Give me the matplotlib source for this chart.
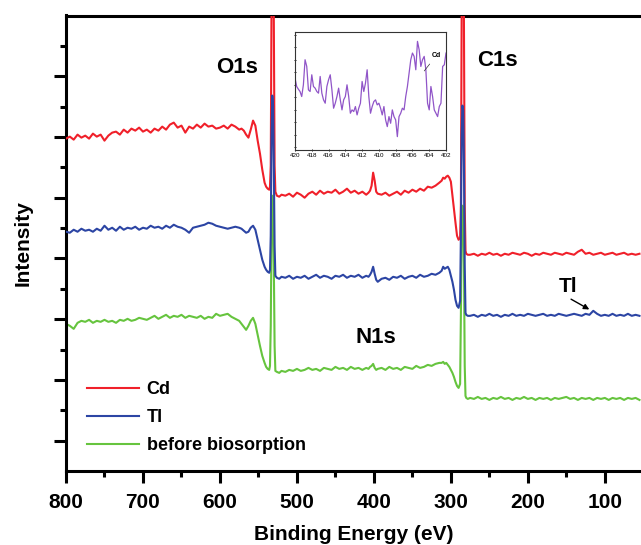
import matplotlib
matplotlib.use("Agg")
import matplotlib.pyplot as plt
import numpy as np

plt.rcParams['font.family'] = ['Liberation Sans', 'DejaVu Sans']

# ---------------- data ----------------
energy = [800, 795, 790, 785, 780, 775, 770, 765, 760, 755, 750, 745, 740, 735, 730, 725, 720, 715, 710, 705,
          700, 695, 690, 685, 680, 675, 670, 665, 660, 655, 650, 645, 640, 635, 630, 625, 620, 615, 610, 605,
          600, 595, 590, 585, 580, 575,
          572, 569, 566, 563, 560, 557, 554, 551, 548, 545, 542, 540, 538, 536, 535, 534, 533, 532, 531, 530,
          529, 528, 526, 523, 520,
          515, 510, 505, 500, 495, 490, 485, 480, 475, 470, 465, 460, 455, 450, 445, 440, 435, 430, 425, 420,
          415, 410,
          407, 405, 403, 401, 399, 397, 395,
          390, 385, 380, 375, 370, 365, 360, 355, 350, 345, 340, 335, 330, 325, 320, 315,
          312, 310, 308, 306, 304, 302, 300, 298, 296, 294, 292, 290, 288, 287, 286, 285, 284, 283, 282, 281,
          280, 278,
          275, 270, 265, 260, 255, 250, 245, 240, 235, 230, 225, 220, 215, 210, 205, 200, 195, 190, 185, 180,
          175, 170, 165, 160, 155, 150, 145, 140, 135, 130, 125, 120, 115, 110, 105, 100, 95, 90, 85, 80,
          75, 70, 65, 60, 55]

cd = [327, 329, 326, 331, 328, 330, 327, 332, 329, 331, 325, 330, 333, 334, 331, 336, 333, 337, 335, 338,
      334, 336, 333, 337, 335, 339, 336, 341, 343, 338, 340, 333, 339, 337, 341, 338, 342, 339, 340, 337,
      338, 340, 337, 341, 339, 336,
      337, 335, 331, 328, 336, 345, 340, 325, 312, 296, 283, 279, 277, 276, 279, 300, 460, 620, 600, 440,
      300, 274, 270, 269, 271,
      270, 272, 269, 273, 271, 268, 272, 274, 271, 275, 272, 274, 273, 276, 272, 274, 277, 273, 275, 272,
      274, 271,
      273, 275, 280, 293, 285, 274, 272,
      271, 273, 270, 272, 274, 271, 275, 273, 276, 274, 277, 275, 279, 278, 280, 283,
      285, 288, 287, 289, 290, 288, 284, 270, 256, 243, 230, 226, 228, 260, 450, 620, 620, 440, 260, 215,
      212, 211,
      211, 212, 210, 212, 211, 213, 211, 212, 210, 212, 211, 213, 212, 211, 213, 212, 210, 212, 211, 213,
      212, 211, 213, 212, 211, 213, 212, 211, 214, 216, 212, 213, 211, 212, 213, 211, 212, 213, 211, 212,
      213, 211, 212, 211, 212]

tl = [234, 233, 236, 234, 237, 235, 236, 234, 237, 235, 240, 236, 238, 235, 239, 236, 238, 237, 239, 236,
      238, 237, 240, 238, 239, 237, 240, 238, 241, 239, 238, 236, 233, 238, 239, 240, 241, 243, 242, 240,
      239, 238, 237, 238, 239, 238,
      237, 235, 233, 234, 238, 240, 236, 226, 216, 206, 199, 196, 194, 193, 196, 230, 330, 370, 360, 300,
      220, 190, 188, 187, 189,
      188, 190, 187, 189, 188, 190, 187, 189, 191, 188, 190, 189, 187, 190, 189, 191, 188, 190, 189, 191,
      188, 190,
      189, 191, 194, 199, 192, 186, 184,
      187, 188, 186, 189, 188, 190, 187, 189, 190, 188, 191, 189, 190, 192, 191, 193,
      195, 199, 197, 198, 199, 196, 190, 184, 176, 166, 160, 158, 165, 230, 330, 360, 355, 300, 200, 153,
      151, 150,
      150, 151, 149, 151, 150, 152, 150, 151, 149, 151, 150, 152, 150, 151, 150, 152, 151, 150, 151, 152,
      150, 151, 150, 152, 151, 150, 151, 152, 151, 150, 152, 151, 155, 152, 150, 151, 150, 152, 150, 151,
      150, 152, 150, 151, 150]

before = [142, 140, 137, 143, 145, 144, 146, 143, 145, 144, 146, 144, 145, 143, 146, 145, 147, 145, 146, 148,
          147, 146, 148, 150, 147, 149, 151, 148, 150, 149, 151, 148, 150, 149, 148, 150, 147, 149, 148, 152,
          150, 151, 152, 149, 147, 145,
          142, 139, 136, 140, 145, 148, 142, 131, 120, 110, 103, 99, 97, 96, 100, 140, 230, 270, 260, 200,
          120, 95, 94, 93, 95,
          94, 96, 95, 97, 95, 96, 98, 96, 97, 95, 98, 97, 96, 99, 97, 98, 96, 99, 97, 98,
          96, 98,
          97, 99, 100, 102, 98, 96, 97,
          98, 96, 99, 97, 98, 96, 99, 98, 97, 100, 98, 99, 101, 100, 102, 103,
          103, 104, 102, 103, 101, 99, 96, 93, 89, 84, 80, 78, 82, 150, 230, 260, 255, 200, 100, 70,
          68, 67,
          68, 67, 69, 67, 68, 66, 68, 67, 69, 67, 68, 66, 68, 67, 69, 67, 68, 66, 68, 67,
          68, 66, 68, 67, 68, 69, 67, 68, 66, 68, 67, 68, 66, 68, 67, 68, 66, 68, 67, 68,
          66, 68, 67, 68, 66]

series_labels = ['Cd', 'Tl', 'before biosorption']
xtick_values = [800, 700, 600, 500, 400, 300, 200, 100]

# inset (Cd, 420-402 eV)
inset_energy = np.round(np.arange(420.0, 401.9, -0.2), 1)
inset_cd = [21.5, 19.0, 18.2, 17.5, 16.0, 19.5, 27.0, 25.0, 18.0, 17.5, 22.5, 19.0, 18.5, 17.5, 17.0, 22.0,
            17.0, 15.0, 14.0, 19.0, 21.0, 22.5, 18.0, 12.5, 14.0, 16.0, 18.5, 15.0, 12.0, 15.0, 16.0, 19.5,
            16.0, 11.0, 12.0, 11.5, 13.0, 10.5, 12.5, 14.0, 20.5, 17.5, 20.0, 24.0, 16.0, 11.0, 13.0, 14.5,
            15.0, 13.5, 14.0, 12.5, 10.5, 13.0, 9.0, 7.0, 10.0, 8.0, 12.0, 10.0, 9.0, 4.0, 10.0, 11.0,
            12.5, 12.0, 16.0, 19.0, 23.0, 27.0, 29.0, 28.0, 24.0, 32.5, 30.0, 25.0, 27.0, 28.0, 24.0, 14.0,
            12.0, 19.0, 16.0, 12.0, 11.0, 10.0, 13.0, 14.0, 25.0, 25.5, 29.0]
inset_ticks = [420, 418, 416, 414, 412, 410, 408, 406, 404, 402]

# ---------------- figure ----------------
fig = plt.figure(figsize=(6.41, 5.45), dpi=100)
ax = fig.add_axes([66 / 641, 74 / 545, 575 / 641, 455.5 / 545])

colors = {'before': '#66c43e', 'cd': '#f0202a', 'tl': '#2c45a4'}
l3, = ax.plot(energy, before, color=colors['before'], lw=1.5, label=series_labels[2], zorder=2)
l1, = ax.plot(energy, cd, color=colors['cd'], lw=1.5, label=series_labels[0], zorder=3)
l2, = ax.plot(energy, tl, color=colors['tl'], lw=1.5, label=series_labels[1], zorder=4)

ax.set_xlim(800, 53)
ax.set_ylim(-5, 450)

for s in ['top', 'left', 'bottom']:
    ax.spines[s].set_linewidth(2.2)
ax.spines['right'].set_visible(False)

ax.set_xticks(xtick_values)
ax.set_xticklabels([str(v) for v in xtick_values], fontsize=15, fontweight='bold')
ax.set_xticks([750, 650, 550, 450, 350, 250, 150], minor=True)
ax.tick_params(axis='x', which='major', direction='out', length=8.5, width=2.2, pad=7)
ax.tick_params(axis='x', which='minor', direction='out', length=4.5, width=2.2)

yt = np.linspace(-5, 450, 16)[1:-1]
ax.set_yticks(yt[0::2])
ax.set_yticks(yt[1::2], minor=True)
ax.set_yticklabels([])
ax.tick_params(axis='y', which='major', direction='out', length=8.5, width=2.2)
ax.tick_params(axis='y', which='minor', direction='out', length=4.5, width=2.2)
ax.tick_params(top=False, right=False)

ax.set_xlabel('Binding Energy (eV)', fontsize=15, fontweight='bold', labelpad=10)
ax.set_ylabel('Intensity', fontsize=15, fontweight='bold', labelpad=12)

ax.text(578, 398, 'O1s', fontsize=16, fontweight='bold', ha='center', va='center')
ax.text(239, 405, 'C1s', fontsize=16, fontweight='bold', ha='center', va='center')
ax.text(397, 128, 'N1s', fontsize=16, fontweight='bold', ha='center', va='center')
ax.text(148, 179, 'Tl', fontsize=15, fontweight='bold', ha='center', va='center')
ax.annotate('', xy=(117, 155), xytext=(147, 168),
            arrowprops=dict(arrowstyle='-|>', color='black', lw=1.0, mutation_scale=8))

leg = ax.legend(handles=[l1, l2, l3], loc='upper left', bbox_to_anchor=(87 / 641, (545 - 381) / 545),
                bbox_transform=fig.transFigure, frameon=False,
                prop={'weight': 'bold', 'size': 13}, handlelength=2.9, handletextpad=0.4,
                labelspacing=0.62, borderpad=0, borderaxespad=0)

# inset
axi = fig.add_axes([295 / 641, (545 - 150) / 545, 151 / 641, 118 / 545])
axi.plot(inset_energy, inset_cd, color='#9055c8', lw=0.9)
axi.set_xlim(420, 402)
axi.set_ylim(0, 35.3)
axi.set_xticks(inset_ticks)
axi.set_xticklabels([str(v) for v in inset_ticks], fontsize=4.5)
axi.set_yticks(np.arange(0.8, 35.3, 3.75))
axi.set_yticklabels([])
axi.tick_params(axis='both', direction='inout', length=2, width=0.6, pad=1.5)
for s in axi.spines.values():
    s.set_linewidth(0.8)
    s.set_color('#333333')
axi.annotate('Cd', xy=(404.8, 23.0), xytext=(403.7, 27.8), fontsize=5, fontweight='bold',
             arrowprops=dict(arrowstyle='-', color='#333333', lw=0.5))

fig.savefig('out.png', dpi=100)
